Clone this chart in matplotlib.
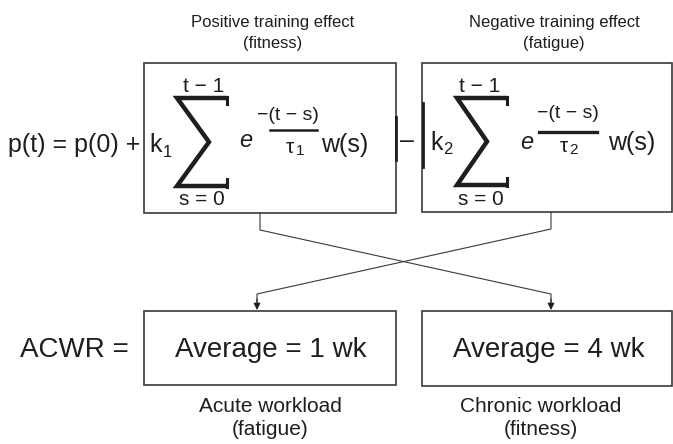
import matplotlib
matplotlib.use("Agg")
import matplotlib.pyplot as plt
from matplotlib.patches import Rectangle

plt.rcParams['font.family'] = ['Liberation Sans', 'DejaVu Sans']

# labels of the diagram
effect_titles = ["Positive training effect\n(fitness)", "Negative training effect\n(fatigue)"]
workload_labels = ["Acute workload\n(fatigue)", "Chronic workload\n(fitness)"]
average_labels = ["Average = 1 wk", "Average = 4 wk"]
k_subs = ["1", "2"]
tau_subs = ["1", "2"]

ink = '#1e1e1e'
edge = '#3a3a3a'

fig = plt.figure(figsize=(6.73, 4.44), dpi=100)
ax = fig.add_axes([0, 0, 1, 1])
ax.set_xlim(0, 673)
ax.set_ylim(444, 0)
ax.axis('off')


def txt(x, y, s, size, ha='center', **kw):
    ax.text(x, y, s, fontsize=size, ha=ha, va='center', color=ink, **kw)


def sigma(x0, x1, ytop, ybot, xmid):
    ymid = (ytop + ybot) / 2
    ax.plot([x1, x0 + 2, xmid, x0 + 2, x1], [ytop, ytop, ymid, ybot, ybot],
            color=ink, lw=3.2, solid_joinstyle='miter', solid_capstyle='butt')
    ax.plot([x1, x1], [ytop - 1, ytop + 6], color=ink, lw=2.2)
    ax.plot([x1, x1], [ybot + 1, ybot - 7], color=ink, lw=2.2)


# upper boxes
upper = [(144, 63, 396, 213), (422, 63, 672, 212)]
for x0, y0, x1, y1 in upper:
    ax.add_patch(Rectangle((x0, y0), x1 - x0, y1 - y0, fill=False, ec=edge, lw=1.2))
# heavier bracket segments
ax.plot([396, 396], [117, 160], color=ink, lw=2.0)
ax.plot([423, 423], [103, 167], color=ink, lw=2.0)

# titles
txt(273, 33, effect_titles[0], 12, linespacing=1.5)
txt(554, 33, effect_titles[1], 12, linespacing=1.5)

# main formula
txt(8, 145, "p(t) = p(0) +", 18, ha='left')
txt(407, 141, "\u2013", 18)

# box 1 content
txt(149, 145, "k", 18, ha='left')
txt(167, 152, k_subs[0], 12)
sigma(175, 227, 98, 186, 209)
txt(204, 86, "t \u2212 1", 15)
txt(202, 199, "s = 0", 15)
txt(246, 140, "e", 17, style='italic')
txt(288, 115, "\u2212(t \u2212 s)", 14)
ax.plot([270, 317], [130, 130], color=ink, lw=1.8)
txt(290, 147, "\u03c4", 15)
txt(300, 151, tau_subs[0], 11)
txt(345, 145, "w(s)", 18)

# box 2 content
txt(430, 143, "k", 18, ha='left')
txt(448, 149, k_subs[1], 12)
sigma(455, 507, 98, 185, 487)
txt(480, 86, "t \u2212 1", 15)
txt(481, 199, "s = 0", 15)
txt(527, 142, "e", 17, style='italic')
txt(568, 113, "\u2212(t \u2212 s)", 14)
ax.plot([539, 597], [132, 132], color=ink, lw=2.4)
txt(564, 146, "\u03c4", 15)
txt(574, 150, tau_subs[1], 11)
txt(632, 143, "w(s)", 18)

# crossing connectors
ax.plot([260, 260, 551, 551], [213, 230, 294, 302], color=edge, lw=0.8)
ax.plot([551, 551, 257, 257], [212, 229, 294, 302], color=edge, lw=0.8)
for xa in (257, 551):
    ax.annotate("", xy=(xa, 310), xytext=(xa, 299),
                arrowprops=dict(arrowstyle='-|>', color=ink, lw=0.8,
                                mutation_scale=10, shrinkA=0, shrinkB=0))

# lower boxes
lower = [(144, 311, 396, 385), (422, 311, 672, 386)]
for x0, y0, x1, y1 in lower:
    ax.add_patch(Rectangle((x0, y0), x1 - x0, y1 - y0, fill=False, ec=edge, lw=1.2))

txt(20, 350, "ACWR =", 20, ha='left')
txt(271, 350, average_labels[0], 20)
txt(549, 350, average_labels[1], 20)

txt(270, 418, workload_labels[0], 15, linespacing=1.3)
txt(541, 418, workload_labels[1], 15, linespacing=1.3)

fig.savefig('out.png', dpi=100, facecolor='white')
